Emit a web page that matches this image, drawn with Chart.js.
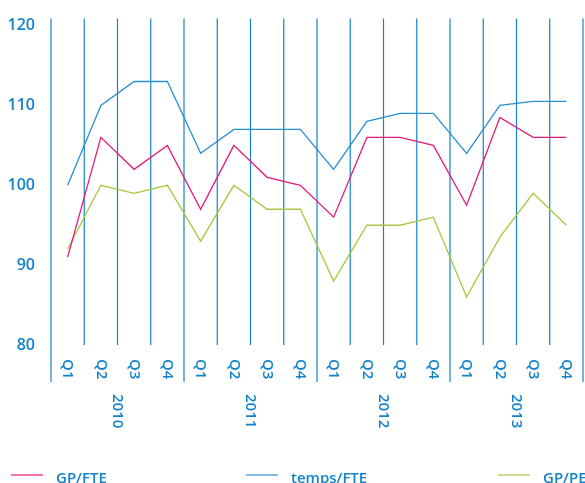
<!DOCTYPE html>
<html>
<head>
<meta charset="utf-8">
<script src="https://cdn.jsdelivr.net/npm/chart.js@4/dist/chart.umd.min.js"></script>
<style>
  html, body { margin: 0; padding: 0; background: #ffffff; }
  #wrap { width: 585px; height: 483px; }
</style>
</head>
<body>
<div id="wrap"><canvas id="c" width="585" height="483"></canvas></div>
<script>
// Quarterly index values, 2010–2013
const years = ['2010', '2011', '2012', '2013'];
const quarters = ['Q1', 'Q2', 'Q3', 'Q4'];
const yTicks = [80, 90, 100, 110, 120];

const gpFte    = [91, 106, 102, 105,  97, 105, 101, 100,  96, 106, 106, 105,  97.5, 108.5, 106, 106];
const tempsFte = [100, 110, 113, 113, 104, 107, 107, 107, 102, 108, 109, 109, 104, 110, 110.5, 110.5];
const gpPe     = [92, 100, 99, 100,  93, 100, 97, 97,  88, 95, 95, 96,  86, 93.5, 99, 95];

const TEXT = '#1283ca';
const RULE = '#1683c6';
const FONT = '"Open Sans", "Noto Sans", sans-serif';
const WEIGHT = '600';

const labels = [];
years.forEach(y => quarters.forEach(q => labels.push(y + ' ' + q)));

// Column separators, rotated quarter / year labels and the legend row
const framePlugin = {
  id: 'frame',
  beforeDatasetsDraw(chart) {
    const { ctx, chartArea } = chart;
    const x = chart.scales.x;
    const step = x.getPixelForValue(1) - x.getPixelForValue(0);
    const n = labels.length;
    ctx.save();
    ctx.strokeStyle = RULE;
    ctx.lineWidth = 1.2;
    for (let k = 0; k <= n; k++) {
      const px = x.getPixelForValue(0) - step / 2 + k * step;
      const isYear = k % quarters.length === 0;
      ctx.beginPath();
      ctx.moveTo(px, chartArea.top - 7);
      ctx.lineTo(px, isYear ? chartArea.bottom + 37 : chartArea.bottom);
      ctx.stroke();
    }
    ctx.restore();
  },
  afterDraw(chart) {
    const { ctx, chartArea } = chart;
    const x = chart.scales.x;
    const step = x.getPixelForValue(1) - x.getPixelForValue(0);
    ctx.save();
    ctx.fillStyle = TEXT;
    ctx.font = WEIGHT + ' 15px ' + FONT;
    ctx.textAlign = 'left';
    ctx.textBaseline = 'middle';
    // quarter labels, reading downward
    labels.forEach((lab, i) => {
      const q = quarters[i % quarters.length];
      ctx.save();
      ctx.translate(x.getPixelForValue(i), chartArea.bottom + 14);
      ctx.rotate(Math.PI / 2);
      ctx.fillText(q, 0, 0);
      ctx.restore();
    });
    // year labels centred on each group of four
    years.forEach((yr, j) => {
      const first = j * quarters.length;
      const cx = x.getPixelForValue(first) + step * (quarters.length - 1) / 2;
      ctx.save();
      ctx.translate(cx, chartArea.bottom + 49);
      ctx.rotate(Math.PI / 2);
      ctx.fillText(yr, 0, 0);
      ctx.restore();
    });
    // legend
    const legendX = [11, 246, 498];
    const ly = 475;
    ctx.textBaseline = 'alphabetic';
    chart.data.datasets.forEach((ds, i) => {
      const lx = legendX[i];
      ctx.strokeStyle = ds.borderColor;
      ctx.lineWidth = 1.2;
      ctx.beginPath();
      ctx.moveTo(lx, ly);
      ctx.lineTo(lx + 32, ly);
      ctx.stroke();
      ctx.fillStyle = TEXT;
      ctx.fillText(ds.label, lx + 45, ly + 7.5);
    });
    ctx.restore();
  }
};

new Chart(document.getElementById('c'), {
  type: 'line',
  data: {
    labels: labels,
    datasets: [
      { label: 'GP/FTE', data: gpFte, borderColor: '#e5197e', borderWidth: 1.3 },
      { label: 'temps/FTE', data: tempsFte, borderColor: '#2a8fd3', borderWidth: 1.3 },
      { label: 'GP/PE', data: gpPe, borderColor: '#a9c640', borderWidth: 1.3 }
    ]
  },
  options: {
    responsive: false,
    animation: false,
    events: [],
    layout: { padding: { left: 0, right: 2, top: 22, bottom: 138 } },
    elements: { point: { radius: 0 }, line: { tension: 0, fill: false } },
    plugins: { legend: { display: false }, tooltip: { enabled: false } },
    scales: {
      x: { type: 'category', offset: true, display: false },
      y: {
        min: yTicks[0],
        max: yTicks[yTicks.length - 1],
        afterFit: s => { s.width = 51; },
        afterBuildTicks: s => { s.ticks = yTicks.map(v => ({ value: v })); },
        grid: { display: false, drawTicks: false },
        border: { display: false },
        ticks: { color: TEXT, padding: 16, font: { family: FONT, size: 16, weight: WEIGHT } }
      }
    }
  },
  plugins: [framePlugin]
});
</script>
</body>
</html>
